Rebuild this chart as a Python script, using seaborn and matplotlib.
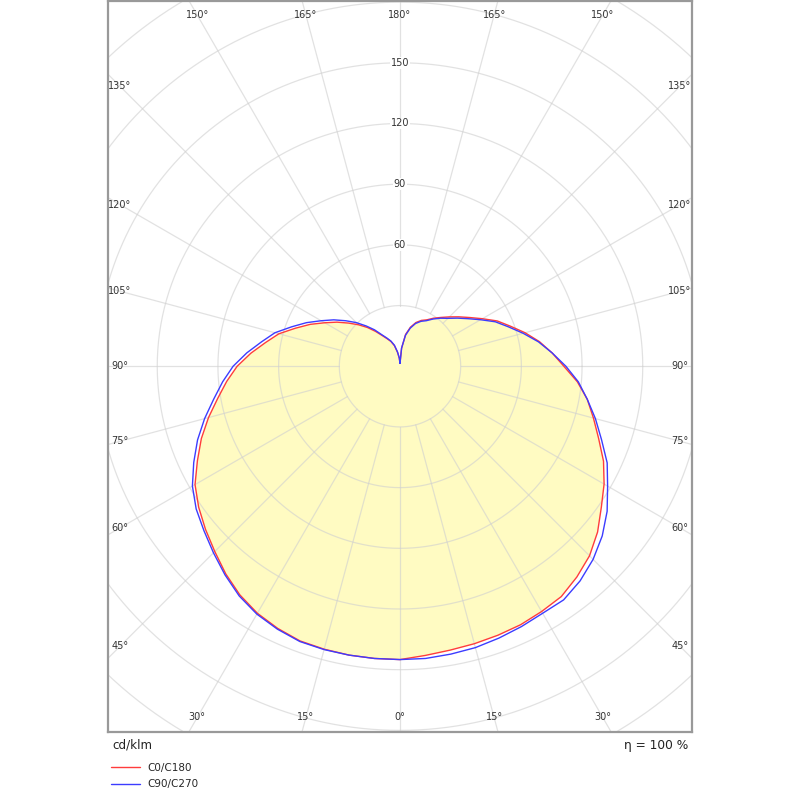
import numpy as np
import pandas as pd
import matplotlib
matplotlib.use("Agg")
import matplotlib.pyplot as plt
import seaborn as sns

# gamma angle per half plane (0 = straight down, 180 = straight up)
gamma = list(range(0, 181, 5))

# luminous intensity in cd/klm
c180 = [145, 145, 145, 144.8, 144.5, 143, 141, 138, 134, 129.5, 125.5, 121.5, 117,
        110.5, 104.5, 98, 91.5, 86, 80.5, 74, 67.5, 62, 55, 49, 43, 38, 33.2, 29,
        25, 21, 17.5, 15, 13, 10.5, 7, 4, 1.5]
c0 = [145, 143.5, 142.5, 142, 141.5, 141, 140, 139, 136, 132.5, 127.5, 121.5, 116.5,
      111, 104.5, 99, 94, 88, 81, 75.5, 70, 64, 58, 53, 47, 42, 38, 34.5, 31.5,
      29, 26.5, 25, 23, 20, 16, 9, 1.5]
c270 = [145, 145, 145, 145, 144.8, 143.4, 141.5, 138.6, 134.6, 130.4, 126.5, 123,
        118.5, 112.5, 106.5, 100, 93.5, 88, 82.5, 76, 69.5, 64, 57, 51, 45, 40,
        35, 30.5, 26, 22, 18, 15.4, 13.3, 10.8, 7.2, 4.2, 1.5]
c90 = [145.5, 145, 144.5, 144, 143, 142, 141, 141, 138.5, 135, 130.5, 125, 118.5,
       113, 106, 100, 94, 88.5, 82, 75.5, 69.5, 63, 57, 52, 46, 41, 37, 33.5, 31,
       28.5, 26, 24.5, 22.5, 19.5, 15.5, 9, 1.5]

series_names = ["C0/C180", "C90/C270"]
series_colors = ["#ff3c3c", "#3c3cff"]

ring_values = [30, 60, 90, 120, 150, 180, 210, 240]
ring_labels = [60, 90, 120, 150]
spoke_angles = list(range(0, 360, 15))
angle_labels = [0, 15, 30, 45, 60, 75, 90, 105, 120, 135, 150, 165, 180]


def half_planes_to_xy(left, right):
    g = np.radians(gamma)
    il = np.array(left)
    ir = np.array(right)
    x = np.concatenate([-(il * np.sin(g))[::-1], (ir * np.sin(g))[1:]])
    y = np.concatenate([-(il * np.cos(g))[::-1], -(ir * np.cos(g))[1:]])
    return x, y


frames = []
for name, (left, right) in zip(series_names, [(c180, c0), (c270, c90)]):
    x, y = half_planes_to_xy(left, right)
    frames.append(pd.DataFrame({"x": x, "y": y, "series": name, "order": np.arange(len(x))}))
df = pd.concat(frames, ignore_index=True)

sns.set_style("white")
plt.rcParams["font.family"] = ["DejaVu Sans"]

fig = plt.figure(figsize=(8, 8), dpi=100)
ax = fig.add_axes([108 / 800, 68 / 800, 584 / 800, 731.5 / 800])

# grid: rings and spokes
grid_kw = dict(color="#d0d0d0", alpha=0.62, lw=0.9, zorder=2)
t = np.linspace(0, 2 * np.pi, 721)
for r in ring_values:
    ax.plot(r * np.cos(t), r * np.sin(t), **grid_kw)
for a in spoke_angles:
    s, c = np.sin(np.radians(a)), -np.cos(np.radians(a))
    ax.plot([ring_values[0] * s, 260 * s], [ring_values[0] * c, 260 * c], **grid_kw)

# fill under the C0/C180 curve
red = df[df["series"] == "C0/C180"]
ax.fill(red["x"], red["y"], color="#fffbc2", lw=0, zorder=1)

sns.lineplot(data=df, x="x", y="y", hue="series", palette=dict(zip(series_names, series_colors)),
             sort=False, estimator=None, units="series", lw=1.0, ax=ax, zorder=3)

# radial value labels
for r in ring_labels:
    ax.text(0, r, str(r), ha="center", va="center", fontsize=7, color="#333333", zorder=4,
            bbox=dict(facecolor="white", edgecolor="none", pad=0.6))

# angle labels along the frame
hx, hy = 138.4, 173.6
for a in angle_labels:
    sides = [1] if a in (0, 180) else [-1, 1]
    for side in sides:
        dx = side * np.sin(np.radians(a))
        dy = -np.cos(np.radians(a))
        tx = hx / abs(dx) if abs(dx) > 1e-9 else np.inf
        ty = hy / abs(dy) if abs(dy) > 1e-9 else np.inf
        k = min(tx, ty)
        ax.text(k * dx, k * dy, f"{a}°", ha="center", va="center", fontsize=7,
                color="#333333", zorder=4)

ax.set_xlim(-144.3, 144.3)
ax.set_ylim(-180.8, 180.8)
ax.set_aspect("equal")
ax.set_xticks([])
ax.set_yticks([])
ax.set_xlabel("")
ax.set_ylabel("")
for sp in ax.spines.values():
    sp.set_visible(True)
    sp.set_color("#999999")
    sp.set_linewidth(1.6)

fig.text(112 / 800, 1 - 745 / 800, "cd/klm", ha="left", va="center", fontsize=8.6, color="#222222")
fig.text(688 / 800, 1 - 745 / 800, "η = 100 %", ha="right", va="center", fontsize=8.8, color="#222222")

handles, labels = ax.get_legend_handles_labels()
ax.legend(handles, labels, loc="upper left", bbox_to_anchor=(111 / 800, 1 - 763 / 800),
          bbox_transform=fig.transFigure, frameon=False, fontsize=7.5, handlelength=2.8,
          handletextpad=0.7, labelspacing=0.6, borderpad=0, borderaxespad=0)

fig.savefig("out.png", dpi=100)
